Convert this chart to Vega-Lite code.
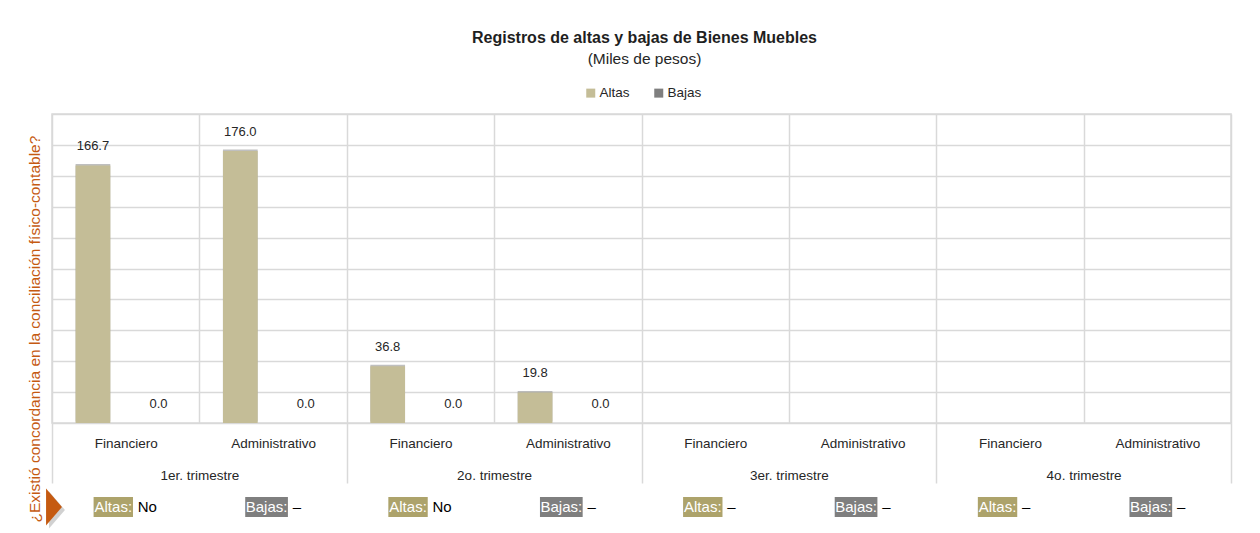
{
  "$schema": "https://vega.github.io/schema/vega-lite/v6.json",
  "datasets": {
    "barras": [
      {"quarter": "1er. trimestre", "cat": "1er. trimestre|Financiero", "serie": "Altas", "valor": 166.7},
      {"quarter": "1er. trimestre", "cat": "1er. trimestre|Financiero", "serie": "Bajas", "valor": 0.0},
      {"quarter": "1er. trimestre", "cat": "1er. trimestre|Administrativo", "serie": "Altas", "valor": 176.0},
      {"quarter": "1er. trimestre", "cat": "1er. trimestre|Administrativo", "serie": "Bajas", "valor": 0.0},
      {"quarter": "2o. trimestre", "cat": "2o. trimestre|Financiero", "serie": "Altas", "valor": 36.8},
      {"quarter": "2o. trimestre", "cat": "2o. trimestre|Financiero", "serie": "Bajas", "valor": 0.0},
      {"quarter": "2o. trimestre", "cat": "2o. trimestre|Administrativo", "serie": "Altas", "valor": 19.8},
      {"quarter": "2o. trimestre", "cat": "2o. trimestre|Administrativo", "serie": "Bajas", "valor": 0.0}
    ],
    "concordancia": [
      {"cat": "1er. trimestre|Financiero", "tag": "Altas:", "respuesta": "No"},
      {"cat": "1er. trimestre|Administrativo", "tag": "Bajas:", "respuesta": "–"},
      {"cat": "2o. trimestre|Financiero", "tag": "Altas:", "respuesta": "No"},
      {"cat": "2o. trimestre|Administrativo", "tag": "Bajas:", "respuesta": "–"},
      {"cat": "3er. trimestre|Financiero", "tag": "Altas:", "respuesta": "–"},
      {"cat": "3er. trimestre|Administrativo", "tag": "Bajas:", "respuesta": "–"},
      {"cat": "4o. trimestre|Financiero", "tag": "Altas:", "respuesta": "–"},
      {"cat": "4o. trimestre|Administrativo", "tag": "Bajas:", "respuesta": "–"}
    ]
  },
  "title": {
    "text": "Registros de altas y bajas de Bienes Muebles",
    "subtitle": "(Miles de pesos)",
    "anchor": "middle",
    "frame": "group",
    "dx": 3,
    "fontSize": 16,
    "fontWeight": "bold",
    "subtitleFontSize": 15.5,
    "color": "#1f1f1f",
    "subtitleColor": "#262626",
    "font": "Liberation Sans",
    "subtitleFont": "Liberation Sans",
    "subtitlePadding": 6,
    "offset": 19
  },
  "padding": {"left": 26, "top": 29, "right": 0, "bottom": 0},
  "bounds": "flush",
  "spacing": 74,
  "vconcat": [
    {
      "width": 1179,
      "height": 309,
      "data": {"name": "barras"},
      "layer": [
        {
          "encoding": {
            "x": {
              "field": "cat", "type": "nominal", "sort": null,
              "scale": {"domain": ["1er. trimestre|Financiero", "1er. trimestre|Administrativo", "2o. trimestre|Financiero", "2o. trimestre|Administrativo", "3er. trimestre|Financiero", "3er. trimestre|Administrativo", "4o. trimestre|Financiero", "4o. trimestre|Administrativo"], "paddingInner": 0, "paddingOuter": 0},
              "axis": {"orient": "bottom", "title": null, "domain": false, "ticks": false, "grid": true, "tickBand": "extent", "gridColor": "#d9d9d9", "gridWidth": 1.5, "labelExpr": "split(datum.label, '|')[1]", "labelAngle": 0, "labelPadding": 13, "labelFontSize": 13.5, "labelColor": "#262626", "labelFont": "Liberation Sans"}
            },
            "xOffset": {"field": "serie", "type": "nominal", "scale": {"domain": ["Altas", "Bajas"], "paddingInner": 0.47, "paddingOuter": 0.36}},
            "y": {
              "field": "valor", "type": "quantitative",
              "scale": {"domain": [0, 200]},
              "axis": {"title": "¿Existió concordancia en la conciliación físico-contable?", "titleColor": "#c55a11", "titleFontSize": 15.5, "titleFontWeight": "normal", "titleFont": "Liberation Sans", "titleAngle": -90, "titleAlign": "left", "titleBaseline": "alphabetic", "titleX": -12.7, "titleY": 408, "labels": false, "ticks": false, "domain": false, "grid": true, "values": [0, 20, 40, 60, 80, 100, 120, 140, 160, 180, 200], "gridColor": "#d9d9d9", "gridWidth": 1.5}
            }
          },
          "layer": [
            {
              "mark": {"type": "bar", "color": "#8a8a8a", "opacity": 0.55, "yOffset": -1.5}
            },
            {
              "mark": {"type": "bar"},
              "encoding": {
                "color": {
                  "field": "serie", "type": "nominal",
                  "scale": {"domain": ["Altas", "Bajas"], "range": ["#c4bd97", "#7f7f7f"]},
                  "legend": {"orient": "none", "legendX": 532, "legendY": -28, "direction": "horizontal", "title": null, "symbolType": "square", "symbolSize": 81, "symbolStrokeWidth": 0, "labelFontSize": 13.5, "labelFont": "Liberation Sans", "labelOffset": 2, "columnPadding": 22, "labelColor": "#262626", "padding": 0}
                }
              }
            },
            {
              "mark": {"type": "text", "baseline": "middle", "dy": -19, "fontSize": 13, "font": "Liberation Sans", "color": "#262626"},
              "encoding": {
                "text": {"field": "valor", "type": "quantitative", "format": ".1f"}
              }
            }
          ]
        },
        {
          "mark": {"type": "tick", "opacity": 0},
          "encoding": {
            "x": {
              "field": "quarter", "type": "nominal", "sort": null,
              "scale": {"domain": ["1er. trimestre", "2o. trimestre", "3er. trimestre", "4o. trimestre"], "paddingInner": 0, "paddingOuter": 0},
              "axis": {"orient": "bottom", "title": null, "domain": false, "ticks": true, "tickBand": "extent", "tickSize": 60, "tickColor": "#d9d9d9", "tickWidth": 1.5, "grid": false, "labelPadding": -15, "labelAngle": 0, "labelFontSize": 13.5, "labelColor": "#262626", "labelFont": "Liberation Sans"}
            }
          }
        }
      ],
      "resolve": {"scale": {"x": "independent"}, "axis": {"x": "independent"}}
    },
    {
      "width": 1179,
      "height": 20,
      "view": {"stroke": null},
      "data": {"name": "concordancia"},
      "encoding": {
        "x": {
          "field": "cat", "type": "nominal", "sort": null,
          "scale": {"domain": ["1er. trimestre|Financiero", "1er. trimestre|Administrativo", "2o. trimestre|Financiero", "2o. trimestre|Administrativo", "3er. trimestre|Financiero", "3er. trimestre|Administrativo", "4o. trimestre|Financiero", "4o. trimestre|Administrativo"], "paddingInner": 0, "paddingOuter": 0},
          "axis": null
        }
      },
      "layer": [
        {
          "transform": [{"filter": "datum.tag === 'Altas:'"}],
          "mark": {"type": "bar", "width": 39.4, "xOffset": -12.4, "color": "#ada36b"}
        },
        {
          "transform": [{"filter": "datum.tag === 'Bajas:'"}],
          "mark": {"type": "bar", "width": 42.7, "xOffset": -6.5, "color": "#7f7f7f"}
        },
        {
          "transform": [{"filter": "datum.tag === 'Altas:'"}],
          "mark": {"type": "text", "xOffset": -12.4, "color": "#ffffff", "fontSize": 15, "font": "Liberation Sans", "baseline": "middle"},
          "encoding": {"text": {"field": "tag", "type": "nominal"}}
        },
        {
          "transform": [{"filter": "datum.tag === 'Bajas:'"}],
          "mark": {"type": "text", "xOffset": -6.5, "color": "#ffffff", "fontSize": 15, "font": "Liberation Sans", "baseline": "middle"},
          "encoding": {"text": {"field": "tag", "type": "nominal"}}
        },
        {
          "transform": [{"filter": "datum.tag === 'Altas:'"}],
          "mark": {"type": "text", "align": "left", "xOffset": 12, "color": "#000000", "fontSize": 15, "font": "Liberation Sans", "baseline": "middle"},
          "encoding": {"text": {"field": "respuesta", "type": "nominal"}}
        },
        {
          "transform": [{"filter": "datum.tag === 'Bajas:'"}],
          "mark": {"type": "text", "align": "left", "xOffset": 19.6, "color": "#000000", "fontSize": 15, "font": "Liberation Sans", "baseline": "middle"},
          "encoding": {"text": {"field": "respuesta", "type": "nominal"}}
        },
        {
          "data": {"values": [{"cat": "1er. trimestre|Financiero"}]},
          "mark": {"type": "point", "shape": "M-0.43,-1L0.43,0L-0.43,1Z", "size": 1369, "filled": true, "color": "#000000", "opacity": 0.18, "xOffset": 5, "yOffset": 3},
          "encoding": {"x": {"field": "cat", "type": "nominal", "bandPosition": 0}}
        },
        {
          "data": {"values": [{"cat": "1er. trimestre|Financiero"}]},
          "mark": {"type": "point", "shape": "M-0.43,-1L0.43,0L-0.43,1Z", "size": 1369, "filled": true, "color": "#c55a11", "opacity": 1, "xOffset": 2},
          "encoding": {"x": {"field": "cat", "type": "nominal", "bandPosition": 0}}
        }
      ]
    }
  ],
  "config": {
    "font": "Liberation Sans",
    "view": {"stroke": "#d9d9d9", "strokeWidth": 1.5}
  }
}
